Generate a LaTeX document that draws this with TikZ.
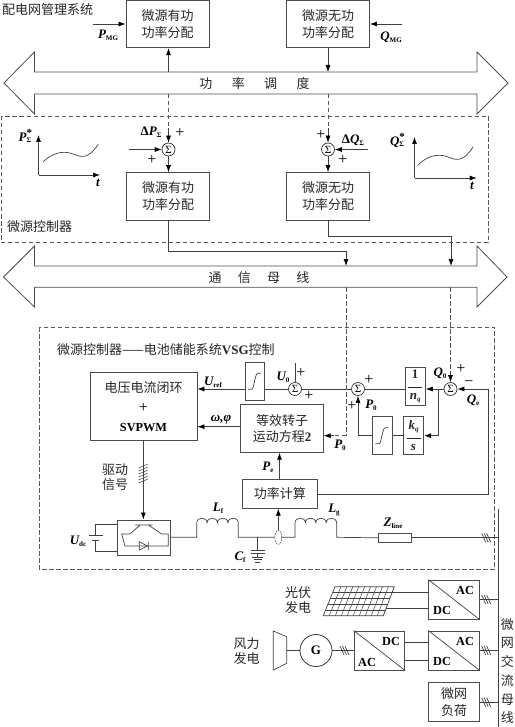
\documentclass[tikz,border=0pt]{standalone}
\usepackage{fontspec}
\setmainfont{Liberation Serif}
\newfontfamily\cjk{Noto Sans CJK SC}
\usetikzlibrary{arrows.meta,shapes.geometric}
\newcommand{\vbl}[2]{{\fontsize{13}{13}\selectfont\bfseries\itshape #1}\raisebox{-2pt}{\fontsize{7}{7}\selectfont\bfseries #2}}
\newcommand{\hatchmark}[2]{\draw[wire] (#1-5,#2-4.5) -- (#1-1,#2+4.5) (#1-2.5,#2-4.5) -- (#1+1.5,#2+4.5) (#1,#2-4.5) -- (#1+4,#2+4.5);}
\newcommand{\limitercurve}[1]{\draw[wire] ([shift={(-7,8)}]#1.center) -- ([shift={(-3,8)}]#1.center) .. controls ([shift={(-1,8)}]#1.center) and ([shift={(0,-8)}]#1.center) .. ([shift={(3,-8)}]#1.center) -- ([shift={(6,-8)}]#1.center);}
\newcommand{\inductor}[3]{\draw[wire] \foreach \i in {0,1,2,3} {(#1+\i*#3,#2) .. controls (#1+\i*#3,#2-6.5) and (#1+\i*#3+#3,#2-6.5) .. (#1+\i*#3+#3,#2)};}
\newcommand{\conv}[3]{%
  \node[bx,minimum width=50.6pt,minimum height=39.2pt] (#1) at (#2,#3) {};
  \draw[wire] (#1.north west) -- (#1.south east);}
\tikzset{
  x=1pt,y=-1pt,
  bx/.style={draw=black!70,line width=0.8pt,inner sep=0pt,align=center,font=\cjk\fontsize{13}{16.5}\selectfont,text=black!85},
  wire/.style={draw=black!75,line width=0.7pt},
  arr/.style={wire,-{Latex[length=7pt,width=5pt,black]}},
  dashln/.style={draw=black!65,line width=0.7pt,dash pattern=on 4.5pt off 2.5pt},
  lbl/.style={inner sep=0pt,text=black},
  zh/.style={inner sep=0pt,align=center,text=black!85,font=\cjk\fontsize{13}{15}\selectfont},
  pm/.style={inner sep=0pt,font=\fontsize{16}{16}\selectfont},
  sumn/.style={circle,draw=black!80,line width=0.7pt,minimum size=13pt,inner sep=0pt,font=\fontsize{11}{11}\selectfont},
  bus/.style={draw=black!70,line width=0.8pt},
  latin/.style={inner sep=0pt,font=\fontsize{12.3}{12.3}\selectfont\bfseries},
}
\begin{document}
\begin{tikzpicture}
\useasboundingbox (0,0) rectangle (514,727);

% --- dashed frames
\draw[dashln] (1,116) rectangle (488,242.5);
\draw[dashln] (39,327) rectangle (494.7,569);

% --- top row
\node[zh,anchor=west] (title1) at (2,10) {配电网管理系统};
\node[bx,minimum width=83pt,minimum height=47.5pt] (topP) at (167.5,24) {微源有功\\功率分配};
\node[bx,minimum width=83pt,minimum height=47.5pt] (topQ) at (328,24) {微源无功\\功率分配};
\coordinate (pin) at (93,24);
\coordinate (qin) at (402,24);
\draw[arr] (pin) -- (topP.west |- pin);
\draw[arr] (qin) -- (topQ.east |- qin);
\node[lbl] (lpmg) at (108,35) {\vbl{P}{MG}};
\node[lbl] (lqmg) at (391,37) {\vbl{Q}{MG}};

% --- dispatch bus
\draw[bus] (4,83) -- (34.5,52) -- (34.5,72) -- (477,72) -- (477,52) -- (508,83) -- (477,114) -- (477,94) -- (34.5,94) -- (34.5,114) -- cycle;
\node[zh,font=\cjk\fontsize{13}{13}\selectfont] (dispatch) at (254.5,83.5) {功\hspace{19.4pt}率\hspace{19.4pt}调\hspace{19.4pt}度};
\coordinate (dispU1) at (168.5,72); \coordinate (dispU2) at (328,72);
\coordinate (dispL1) at (168.5,94); \coordinate (dispL2) at (328,94);
\draw[arr] (dispU1) -- (dispU1 |- topP.south);
\draw[arr] (topQ.south -| dispU2) -- (dispU2);

% --- micro-source controller
\node[sumn] (sumP) at (168.5,149.5) {Σ};
\node[sumn] (sumQ) at (328,149.5) {Σ};
\node[bx,minimum width=83pt,minimum height=47.5pt] (midP) at (168,196.3) {微源有功\\功率分配};
\node[bx,minimum width=83pt,minimum height=47.5pt] (midQ) at (328,196.3) {微源无功\\功率分配};
\coordinate (dP) at (168.5,128); \coordinate (dQ) at (328,128);
\draw[dashln] (dispL1) -- (dP);
\draw[dashln] (dispL2) -- (dQ);
\draw[arr] (dP) -- (sumP.north);
\draw[arr] (dQ) -- (sumQ.north);
\coordinate (pL) at (129,149.5); \coordinate (qR) at (368,149.5);
\draw[arr] (pL) -- (sumP.west);
\draw[arr] (qR) -- (sumQ.east);
\draw[arr] (sumP.south) -- (sumP.south |- midP.north);
\draw[arr] (sumQ.south) -- (sumQ.south |- midQ.north);
\node[lbl] (ldp) at (151,132) {{\fontsize{13}{13}\selectfont\bfseries Δ}\vbl{P}{Σ}};
\node[pm] (p1) at (180,133) {+};
\node[pm] (p2) at (152,160) {+};
\node[pm] (p3) at (321,135) {+};
\node[lbl] (ldq) at (353,140) {{\fontsize{13}{13}\selectfont\bfseries Δ}\vbl{Q}{Σ}};
\node[pm] (p4) at (343,160) {+};
\node[zh,anchor=west] (ctrl1) at (7,227) {微源控制器};

% curves
\coordinate (ax1o) at (38.5,175); \coordinate (ax1y) at (38.5,135); \coordinate (ax1x) at (100,175);
\draw[arr] (ax1o) -- (ax1y);
\draw[arr] (ax1o) -- (ax1x);
\draw[wire] (43,162) .. controls (52,153) and (62,151) .. (70,153) .. controls (80,156) and (86,162) .. (98.3,144.3);
\node[lbl] (lps) at (25,136) {{\fontsize{13}{13}\selectfont\bfseries\itshape P}\raisebox{-1.5pt}{\makebox[0pt][l]{\raisebox{6.5pt}{\fontsize{11}{11}\selectfont\bfseries *}}\fontsize{7}{7}\selectfont\bfseries Σ}\hspace{5pt}};
\node[lbl,font=\fontsize{13}{13}\selectfont\bfseries\itshape] (lt1) at (98,183) {t};
\coordinate (ax2o) at (414.5,178); \coordinate (ax2y) at (414.5,137); \coordinate (ax2x) at (476.7,178);
\draw[arr] (ax2o) -- (ax2y);
\draw[arr] (ax2o) -- (ax2x);
\draw[wire] (418,165) .. controls (427,156) and (437,154) .. (445,156) .. controls (455,159) and (461,165) .. (473,147);
\node[lbl] (lqs) at (397,140) {{\fontsize{13}{13}\selectfont\bfseries\itshape Q}\raisebox{-1.5pt}{\makebox[0pt][l]{\raisebox{6.5pt}{\fontsize{11}{11}\selectfont\bfseries *}}\fontsize{7}{7}\selectfont\bfseries Σ}\hspace{5pt}};
\node[lbl,font=\fontsize{13}{13}\selectfont\bfseries\itshape] (lt2) at (472,186) {t};

% --- comm bus
\draw[bus] (3.5,277) -- (34.5,246) -- (34.5,266) -- (477,266) -- (477,246) -- (507,277) -- (477,307) -- (477,287.3) -- (34.5,287.3) -- (34.5,307) -- cycle;
\node[zh,font=\cjk\fontsize{13}{13}\selectfont] (comm) at (259,278) {通\hspace{16.3pt}信\hspace{16.3pt}母\hspace{16.3pt}线};
\coordinate (cU1) at (346,266); \coordinate (cU2) at (451,266);
\coordinate (cL1) at (346,287.3); \coordinate (cL2) at (450.5,287.3);
\draw[arr] (midP.south -| dP) -- (168.5,251.3) -- (346,251.3) -- (cU1);
\draw[arr] (midQ.south) -- (328,236) -- (451,236) -- (cU2);

% --- VSG controller
\node[zh,anchor=west] (title2) at (57,349.5) {微源控制器——电池储能系统{\rmfamily\bfseries VSG}控制};
\node[bx,minimum width=107pt,minimum height=67.3pt] (vc) at (143.5,406.3) {};
\node[zh] (vc1) at (143.5,388) {电压电流闭环};
\node[pm] (vc2) at (143.5,408) {+};
\node[latin] (vc3) at (143.5,428) {SVPWM};
\node[bx,minimum width=19.7pt,minimum height=37.7pt] (lim1) at (254.9,381.2) {};
\limitercurve{lim1}
\node[sumn] (sU) at (295,389) {Σ};
\node[sumn] (sM) at (358,389) {Σ};
\node[sumn] (sQ) at (450.5,389) {Σ};
\node[bx,minimum width=20.3pt,minimum height=38.4pt,font=\fontsize{13}{13}\selectfont\bfseries] (nq) at (415.2,386.5) {1\\[-4pt]\rule{14pt}{0.6pt}\\[-1pt]\itshape n\raisebox{-2pt}{\fontsize{7}{7}\selectfont q}};
\node[bx,minimum width=20.4pt,minimum height=38pt,font=\fontsize{13}{13}\selectfont\bfseries] (ks) at (413.5,435.7) {\itshape k\raisebox{-2pt}{\fontsize{7}{7}\selectfont q}\\[-4pt]\rule{14pt}{0.6pt}\\[-1pt]\itshape s};
\node[bx,minimum width=20pt,minimum height=38pt] (lim2) at (382.3,435.7) {};
\limitercurve{lim2}
\node[bx,minimum width=82.6pt,minimum height=48pt] (rot) at (282,428.3) {等效转子\\运动方程{\rmfamily\bfseries 2}};
\node[bx,minimum width=74.3pt,minimum height=28.5pt] (pw) at (279.8,494) {功率计算};

\draw[arr] (lim1.west |- sU) -- (vc.east |- sU);
\draw[wire] (lim1.east |- sU) -- (sU.west);
\draw[wire] (sU.east) -- (sM.west);
\draw[wire] (sM.east) -- (nq.west |- sM);
\coordinate (jq) at (438,389);
\draw[arr] (sQ.west) -- (nq.east |- sQ);
\draw[arr] (jq) -- (438,435.7) -- (ks.east);
\draw[wire] (ks.west) -- (lim2.east);
\draw[arr] (lim2.west) -- (358,435.7) -- (sM.south);
\coordinate (u0in) at (295,363);
\draw[wire] (u0in) -- (sU.north);
\coordinate (qdash) at (450.5,372);
\coordinate (pdash) at (346,435.7);
\coordinate (pdash2) at (334,435.7);
\coordinate (wphi) at (240,426.7);
\draw[dashln] (cL2) -- (qdash);
\draw[arr] (qdash) -- (sQ.north);
\draw[dashln] (cL1) -- (pdash);
\draw[dashln] (pdash) -- (pdash2);
\draw[arr] (pdash2) -- (rot.east |- pdash2);
\draw[arr] (rot.west |- wphi) -- (vc.east |- wphi);
\coordinate (pex) at (279.5,470);
\draw[arr] (pw.north -| pex) -- (rot.south -| pex);
\draw[arr] (pw.east) -- (488,494) -- (488,389) -- (sQ.east);

\node[lbl] (luref) at (213,382) {\vbl{U}{ref}};
\node[lbl,font=\fontsize{13}{13}\selectfont\bfseries\itshape] (lw) at (221,420) {ω,φ};
\node[lbl] (lu0) at (283,377) {\vbl{U}{0}};
\node[pm] at (301,373) {+};
\node[pm] at (309,396) {+};
\node[pm] at (369,380) {+};
\node[pm] at (352,406) {+};
\node[lbl] (lp0a) at (371,405) {\vbl{P}{0}};
\node[lbl] (lq0) at (440,373) {\vbl{Q}{0}};
\node[pm] at (461,369) {+};
\node[pm] at (469,384) {−};
\node[lbl] (lqe) at (473,400) {\vbl{Q}{e}};
\node[lbl] (lp0b) at (340,445) {\vbl{P}{0}};
\node[lbl] (lpe) at (268,467) {\vbl{P}{e}};

% --- drive and inverter
\node[bx,minimum width=53pt,minimum height=35.7pt] (inv) at (143.8,537.8) {};
\coordinate (drvx) at (143.3,470);
\draw[arr] (vc.south -| drvx) -- (inv.north -| drvx);
\foreach \yy in {466,469,472,475,478,481} \draw[wire,line width=0.5pt] (138.5,\yy+2) -- (148,\yy-2);
\node[zh] (drv) at (115,477) {驱动\\信号};
\draw[wire] (135,525) -- (152.7,525)
  (140,525) -- (130,534) -- (121.7,534) -- (125,546) -- (168.3,546) -- (168.3,534) -- (161.7,534) -- (148.3,525);
\draw[wire] (139.3,541.7) -- (139.3,550) -- (147.3,546) -- cycle (148.3,541.7) -- (148.3,550);

% battery
\coordinate (batT) at (95.7,535); \coordinate (batB) at (95.7,540.7);
\coordinate (bat1) at (95.7,524); \coordinate (bat2) at (95.7,551);
\draw[wire] (89,535) -- (103,535) (92,540.7) -- (99,540.7);
\draw[wire] (batT) -- (bat1) -- (inv.west |- bat1);
\draw[wire] (batB) -- (bat2) -- (inv.west |- bat2);
\node[lbl] (ludc) at (78,541) {\vbl{U}{dc}};

% line
\coordinate (Lf1) at (196.7,537.3); \coordinate (Lf2) at (238.3,537.3);
\coordinate (Lg1) at (295,537.3); \coordinate (Lg2) at (336.7,537.3);
\node[bx,minimum width=33.4pt,minimum height=8.5pt] (zl) at (395,537.8) {};
\draw[wire] (inv.east |- Lf1) -- (Lf1) -- (196.7,523) (238.3,523) -- (Lf2) -- (Lg1) -- (295,523) (336.7,523) -- (Lg2) -- (zl.west);
\inductor{196.7}{523}{10.4}
\inductor{295}{523}{10.4}
\node[lbl] (llf) at (218,508) {\vbl{L}{f}};
\node[lbl] (llg) at (334,510) {\vbl{L}{g}};
\node[lbl] (lzl) at (393,523) {\vbl{Z}{line}};
\node[ellipse,draw=black!65,dash pattern=on 1.5pt off 1pt,line width=0.6pt,minimum width=7pt,minimum height=14pt,inner sep=0pt,fill=white] (ct) at (278.3,537.3) {};
\draw[arr] (ct.north) -- (pw.south -| ct.north);
% capacitor
\coordinate (cap) at (257.7,537.3);
\draw[wire] (cap) -- (257.7,550) (250.7,550) -- (264.7,550) (250.7,553) -- (264.7,553) (257.7,553) -- (257.7,557) (252,557) -- (263.4,557) (253.7,559.5) -- (261.7,559.5) (255.4,562) -- (260,562);
\node[lbl] (lcf) at (240,557) {\vbl{C}{f}};

% --- AC bus
\coordinate (busT) at (498.5,509); \coordinate (busB) at (498.5,727);
\draw[wire,line width=0.9pt] (busT) -- (busB);
\draw[wire] (zl.east) -- (zl.east -| busT);
\hatchmark{486.7}{537.8}
\node[zh,font=\cjk\fontsize{13}{18.7}\selectfont] (busl) at (507.3,671) {微\\网\\交\\流\\母\\线};

% --- PV
\conv{c1}{454}{599.6}
\node[latin] (c1a) at (465,590) {AC};
\node[latin] (c1d) at (442,610) {DC};
\draw[wire] (c1.east) -- (c1.east -| busT);
\hatchmark{486.7}{599.6}
\draw[wire] (335,586.7) -- (394.3,586.7) -- (383.3,615.7) -- (323.3,615.7) -- cycle;
\foreach \t in {0.2,0.4,0.6,0.8} \draw[wire,line width=0.5pt] (335-11.7*\t,586.7+29*\t) -- (394.3-11*\t,586.7+29*\t);
\foreach \t in {1,...,9} \draw[wire,line width=0.5pt] (335+5.93*\t,586.7) -- (323.3+6*\t,615.7);
\coordinate (pv1) at (392,592.7); \coordinate (pv2) at (386,608.3);
\draw[wire] (pv1) -- (c1.west |- pv1) (pv2) -- (c1.west |- pv2);
\node[zh] (pvl) at (298,600.5) {光伏\\发电};

% --- wind
\conv{c2}{454}{650.5}
\node[latin] (c2a) at (465,641) {AC};
\node[latin] (c2d) at (442,661) {DC};
\draw[wire] (c2.east) -- (c2.east -| busT);
\hatchmark{486.7}{650.5}
\conv{c3}{379.4}{650.5}
\node[latin] (c3d) at (391,641) {DC};
\node[latin] (c3a) at (367,662) {AC};
\coordinate (dcl1) at (410,642.3); \coordinate (dcl2) at (410,660);
\draw[wire] (c3.east |- dcl1) -- (c2.west |- dcl1) (c3.east |- dcl2) -- (c2.west |- dcl2);
\node[circle,draw=black!80,line width=0.8pt,minimum size=32pt,inner sep=0pt,font=\fontsize{13}{13}\selectfont\bfseries] (gen) at (316,650.5) {G};
\draw[wire] (gen.east) -- (c3.west);
\hatchmark{345}{650.5}
\draw[wire] (273.3,631) -- (286.7,636.7) -- (286.7,663.3) -- (273.3,670) -- cycle;
\coordinate (tb) at (286.7,650.5);
\draw[wire] (tb) -- (gen.west);
\node[zh] (wl) at (246.7,651.5) {风力\\发电};

% --- load
\node[bx,minimum width=50.6pt,minimum height=39pt] (load) at (454,702.2) {微网\\负荷};
\draw[wire] (load.east) -- (load.east -| busT);
\hatchmark{486.7}{702.2}
\end{tikzpicture}
\end{document}
